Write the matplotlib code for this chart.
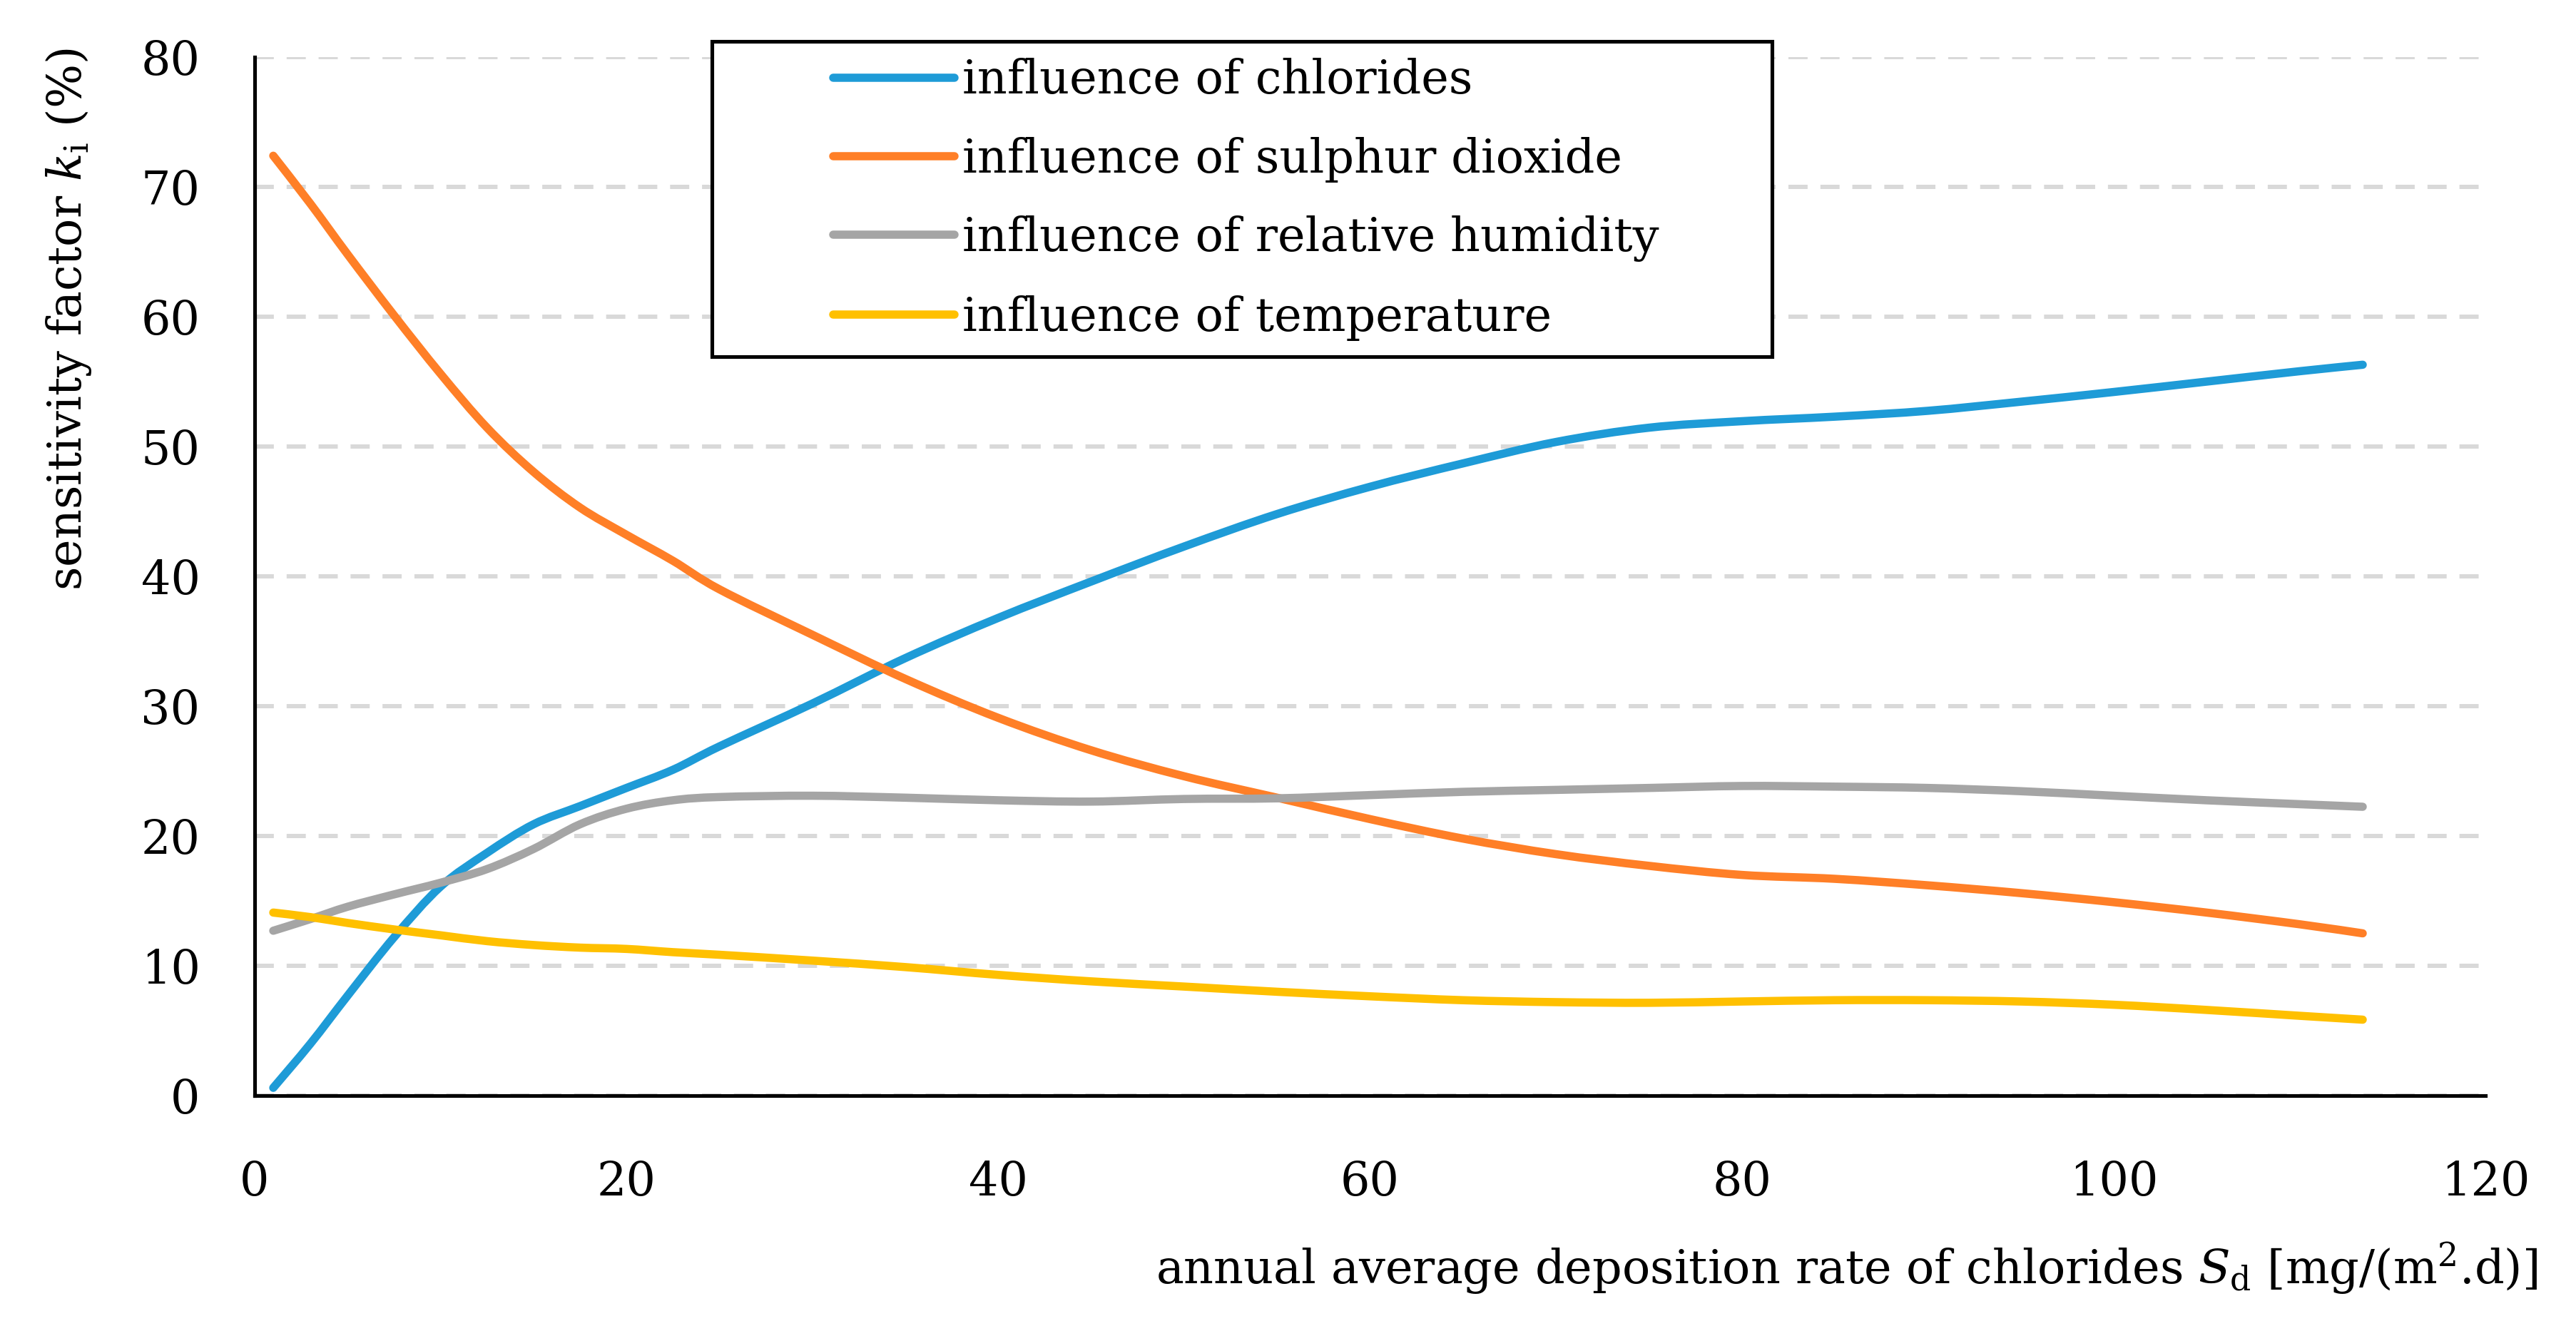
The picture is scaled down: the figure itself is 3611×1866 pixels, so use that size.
import matplotlib
matplotlib.use("Agg")
import matplotlib.pyplot as plt
from matplotlib.patches import Rectangle, PathPatch
from matplotlib.path import Path
from matplotlib.lines import Line2D

# ---------------- data ----------------
deposition = [1, 3, 5, 7.5, 10, 12.5, 15, 17.5, 20, 22.5, 25, 30, 35, 40, 45, 50,
              55, 60, 65, 70, 75, 80, 85, 90, 95, 100, 105, 110, 113.4]

chlorides = [0.6, 4.0, 7.7, 12.2, 16.1, 18.7, 20.9, 22.3, 23.7, 25.1, 26.9, 30.2,
             33.7, 36.8, 39.6, 42.3, 44.8, 46.9, 48.7, 50.35, 51.45, 51.95, 52.3,
             52.75, 53.45, 54.2, 55.0, 55.8, 56.3]

sulphur_dioxide = [72.4, 68.7, 64.8, 60.1, 55.6, 51.45, 48.05, 45.3, 43.2, 41.2, 39.0,
                   35.5, 32.1, 29.1, 26.6, 24.6, 22.95, 21.3, 19.8, 18.6, 17.7, 17.0,
                   16.7, 16.2, 15.6, 14.9, 14.1, 13.2, 12.5]

relative_humidity = [12.7, 13.6, 14.55, 15.5, 16.4, 17.45, 19.0, 20.9, 22.1, 22.75, 23.0,
                     23.1, 22.95, 22.75, 22.65, 22.85, 22.9, 23.15, 23.4, 23.55, 23.7,
                     23.85, 23.8, 23.7, 23.45, 23.1, 22.75, 22.45, 22.25]

temperature = [14.1, 13.75, 13.3, 12.8, 12.35, 11.9, 11.6, 11.4, 11.3, 11.05, 10.85,
               10.4, 9.9, 9.3, 8.8, 8.4, 8.0, 7.65, 7.35, 7.2, 7.15, 7.25, 7.35, 7.35,
               7.25, 7.0, 6.6, 6.15, 5.85]

series_labels = ["influence of chlorides", "influence of sulphur dioxide",
                 "influence of relative humidity", "influence of temperature"]
series_colors = ["#1E9BD7", "#FF7F27", "#A5A5A5", "#FFC000"]

x_ticks = [0, 20, 40, 60, 80, 100, 120]
y_ticks = [0, 10, 20, 30, 40, 50, 60, 70, 80]


def smooth_path(xs, ys):
    """Excel-style smoothed line: cubic Bezier segments through the data points."""
    pts = list(zip(xs, ys))
    n = len(pts)
    verts = [pts[0]]
    codes = [Path.MOVETO]
    for i in range(n - 1):
        p0 = pts[i - 1] if i > 0 else pts[i]
        p1 = pts[i]
        p2 = pts[i + 1]
        p3 = pts[i + 2] if i + 2 < n else pts[i + 1]
        c1 = (p1[0] + (p2[0] - p0[0]) / 6.0, p1[1] + (p2[1] - p0[1]) / 6.0)
        c2 = (p2[0] - (p3[0] - p1[0]) / 6.0, p2[1] - (p3[1] - p1[1]) / 6.0)
        verts += [c1, c2, p2]
        codes += [Path.CURVE4] * 3
    return Path(verts, codes)


# ---------------- figure ----------------
W, H, DPI = 3611, 1866, 100
plt.rcParams["font.family"] = ["DejaVu Serif"]
plt.rcParams["mathtext.fontset"] = "dejavuserif"
FS = 47
LW = 8.3

fig = plt.figure(figsize=(W / DPI, H / DPI), dpi=DPI)
ax_l, ax_r, ax_t, ax_b = 357, 3484, 80, 1536
ax = fig.add_axes([ax_l / W, 1 - ax_b / H, (ax_r - ax_l) / W, (ax_b - ax_t) / H])

handles = []
for vals, lab, col in zip([chlorides, sulphur_dioxide, relative_humidity, temperature],
                          series_labels, series_colors):
    patch = PathPatch(smooth_path(deposition, vals), facecolor="none", edgecolor=col,
                      lw=LW, capstyle="round", joinstyle="round", zorder=3)
    ax.add_patch(patch)
    handles.append(Line2D([], [], color=col, lw=LW, solid_capstyle="round", label=lab))

ax.set_xlim(0, 120)
ax.set_ylim(0, 80)
ax.set_xticks(x_ticks)
ax.set_yticks(y_ticks)
ax.tick_params(axis="both", length=0, labelsize=FS, colors="black")
ax.tick_params(axis="y", pad=55)
ax.tick_params(axis="x", pad=65)

ax.yaxis.grid(True, color="#D9D9D9", lw=4.3, linestyle=(0, (4.5, 3.0)))
ax.xaxis.grid(False)
ax.set_axisbelow(True)

for s in ["top", "right"]:
    ax.spines[s].set_visible(False)
for s in ["left", "bottom"]:
    ax.spines[s].set_linewidth(3.7)
    ax.spines[s].set_color("black")
    ax.spines[s].set_zorder(4)

# axis titles
fig.text(3557 / W, 1 - 1778 / H,
         r"annual average deposition rate of chlorides $S_\mathrm{d}$ [mg/(m$^2$.d)]",
         ha="right", va="center", fontsize=FS)
fig.text(97 / W, 1 - 68 / H, r"sensitivity factor $k_\mathrm{i}$ (%)",
         rotation=90, ha="center", va="top", fontsize=FS)

# legend box
box_l, box_r, box_t, box_b = 998, 2484, 58, 500
fig.patches.append(Rectangle((box_l / W, 1 - box_b / H), (box_r - box_l) / W,
                             (box_b - box_t) / H, transform=fig.transFigure,
                             facecolor="white", edgecolor="black", lw=3.7, zorder=2))
F_px = FS * DPI / 72
leg = fig.legend(handles=handles, loc="center left",
                 bbox_to_anchor=(1168 / W, 1 - 279.5 / H),
                 frameon=False, fontsize=FS, borderpad=0, borderaxespad=0,
                 handlelength=170 / F_px, handletextpad=0.17, labelspacing=0.71)
leg.set_zorder(5)

fig.savefig("out.png", dpi=DPI, facecolor="white")
